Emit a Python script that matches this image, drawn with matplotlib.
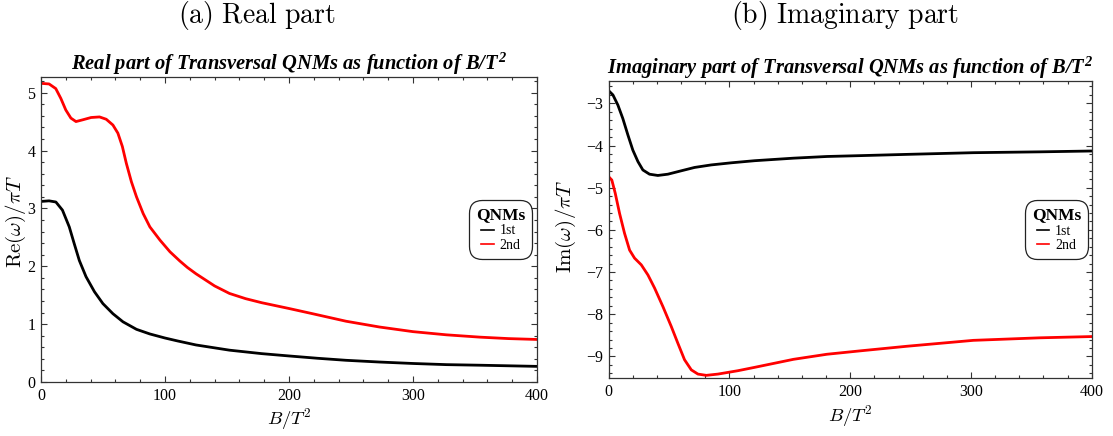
import matplotlib
matplotlib.use("Agg")
import matplotlib.pyplot as plt
from matplotlib.ticker import MultipleLocator
from matplotlib.lines import Line2D

# ---- data: Re(omega)/piT and Im(omega)/piT of transversal QNMs vs B/T^2 ----
re1_b = [0, 6.5, 12, 17.3, 22.8, 26.8, 30.9, 36.3, 43.1, 49.9, 58, 66.1, 77, 87.8, 100,
         110, 125, 152, 178, 200, 223, 246, 273, 300, 327, 354, 377, 400]
re1_w = [3.12, 3.13, 3.11, 2.97, 2.68, 2.39, 2.10, 1.82, 1.56, 1.355, 1.18, 1.04, 0.91,
         0.83, 0.76, 0.71, 0.64, 0.55, 0.49, 0.45, 0.41, 0.375, 0.345, 0.32, 0.30, 0.29,
         0.28, 0.27]

re2_b = [0, 6.5, 11.9, 16, 20, 24.1, 28.2, 33.6, 40.4, 47.2, 52.6, 58, 62, 65.6, 68.8,
         72.9, 77, 82.4, 87.8, 96, 104, 112, 118, 125, 140, 152, 165, 178, 200, 219, 246,
         273, 300, 327, 354, 377, 400]
re2_w = [5.16, 5.15, 5.07, 4.90, 4.70, 4.56, 4.50, 4.53, 4.57, 4.58, 4.54, 4.44, 4.30,
         4.07, 3.78, 3.46, 3.20, 2.91, 2.68, 2.45, 2.25, 2.09, 1.98, 1.87, 1.66, 1.53,
         1.44, 1.37, 1.27, 1.18, 1.05, 0.95, 0.87, 0.815, 0.775, 0.75, 0.735]

im1_b = [0, 3.5, 7.6, 11.7, 15.9, 20, 24.2, 28.3, 33.8, 40.7, 49, 60, 71.1, 84.9, 101.5,
         120.9, 153, 180.7, 208, 247, 302, 357, 400]
im1_w = [-2.70, -2.80, -3.04, -3.36, -3.75, -4.11, -4.38, -4.58, -4.68, -4.71, -4.68,
         -4.60, -4.52, -4.46, -4.41, -4.36, -4.30, -4.26, -4.24, -4.21, -4.17, -4.15, -4.13]

im2_b = [0, 2.6, 5.4, 9, 13.1, 17.3, 21.4, 27, 32.5, 38, 44.9, 51.8, 57.3, 62.8, 68.4,
         73.9, 80.8, 90.5, 107, 120.9, 153, 180.7, 208, 247, 302, 357, 400]
im2_w = [-4.74, -4.82, -5.13, -5.61, -6.08, -6.48, -6.67, -6.83, -7.07, -7.38, -7.82,
         -8.29, -8.69, -9.08, -9.32, -9.42, -9.45, -9.42, -9.34, -9.26, -9.07, -8.95,
         -8.87, -8.76, -8.62, -8.56, -8.53]

mode_names = ["1st", "2nd"]
mode_colors = ["#000000", "#ff0000"]

plt.rcParams["mathtext.fontset"] = "custom"
plt.rcParams["mathtext.rm"] = "Liberation Serif:bold:italic"
plt.rcParams["mathtext.it"] = "Liberation Serif:bold:italic"
plt.rcParams["mathtext.bf"] = "Liberation Serif:bold:italic"

fig = plt.figure(figsize=(11.13, 4.36), dpi=100)
ax_re = fig.add_axes([41 / 1113, 1 - 382 / 436, 496 / 1113, 305 / 436])
ax_im = fig.add_axes([608.7 / 1113, 1 - 378.3 / 436, 483 / 1113, 297.3 / 436])

serif = "Liberation Serif"


def style_axes(ax, ymaj, ymin):
    ax.set_xlim(0, 400)
    ax.xaxis.set_major_locator(MultipleLocator(100))
    ax.xaxis.set_minor_locator(MultipleLocator(20))
    ax.yaxis.set_major_locator(MultipleLocator(ymaj))
    ax.yaxis.set_minor_locator(MultipleLocator(ymin))
    ax.tick_params(which="both", direction="in", top=True, right=True,
                   labeltop=False, labelright=False, color="#333333", width=0.8)
    ax.tick_params(which="major", length=4.5, labelsize=11.5, pad=4)
    ax.tick_params(which="minor", length=2.2)
    for lab in ax.get_xticklabels() + ax.get_yticklabels():
        lab.set_fontfamily(serif)
    for sp in ax.spines.values():
        sp.set_linewidth(0.9)
        sp.set_color("#333333")


def add_legend(ax):
    handles = [Line2D([], [], color=c, lw=1.2) for c in mode_colors]
    leg = ax.legend(handles, mode_names, title="QNMs", loc="center",
                    bbox_to_anchor=(0.927, 0.5), prop={"family": serif, "size": 10},
                    title_fontproperties={"family": serif, "weight": "bold", "size": 12.5},
                    handlelength=0.9, handletextpad=0.4, labelspacing=0.1,
                    borderpad=0.5, frameon=True, fancybox=True, framealpha=1)
    fr = leg.get_frame()
    fr.set_boxstyle("round", pad=0.0, rounding_size=0.9)
    fr.set_edgecolor("#222222")
    fr.set_linewidth(0.9)


# real part
ax_re.plot(re1_b, re1_w, color=mode_colors[0], lw=2.0)
ax_re.plot(re2_b, re2_w, color=mode_colors[1], lw=2.0)
ax_re.set_ylim(0, 5.27)
style_axes(ax_re, 1, 0.2)
add_legend(ax_re)
ax_re.set_title(r"Real part of Transversal QNMs as function of $B/T^2$",
                fontfamily=serif, fontweight="bold", fontstyle="italic",
                fontsize=14.8, pad=3)
ax_re.set_xlabel(r"$B/T^2$", fontsize=13.5, math_fontfamily="cm", labelpad=2)
ax_re.set_ylabel(r"$\mathrm{Re}(\omega)/\pi T$", fontsize=15, math_fontfamily="cm")
ax_re.yaxis.set_label_coords(-0.027, 0.525)

# imaginary part
ax_im.plot(im1_b, im1_w, color=mode_colors[0], lw=2.0)
ax_im.plot(im2_b, im2_w, color=mode_colors[1], lw=2.0)
ax_im.set_ylim(-9.52, -2.47)
style_axes(ax_im, 1, 0.2)
add_legend(ax_im)
ax_im.set_title(r"Imaginary part of Transversal QNMs as function of $B/T^2$",
                fontfamily=serif, fontweight="bold", fontstyle="italic",
                fontsize=14.8, pad=3)
ax_im.set_xlabel(r"$B/T^2$", fontsize=13.5, math_fontfamily="cm", labelpad=2)
ax_im.set_ylabel(r"$\mathrm{Im}(\omega)/\pi T$", fontsize=15, math_fontfamily="cm")
ax_im.yaxis.set_label_coords(-0.064, 0.51)

# panel captions
fig.text(257 / 1113, 1 - 16 / 436, r"$\mathrm{(a)\ Real\ part}$", ha="center",
         va="center", fontsize=20, math_fontfamily="cm")
fig.text(845 / 1113, 1 - 16 / 436, r"$\mathrm{(b)\ Imaginary\ part}$", ha="center",
         va="center", fontsize=20, math_fontfamily="cm")

fig.savefig("out.png", dpi=100)
